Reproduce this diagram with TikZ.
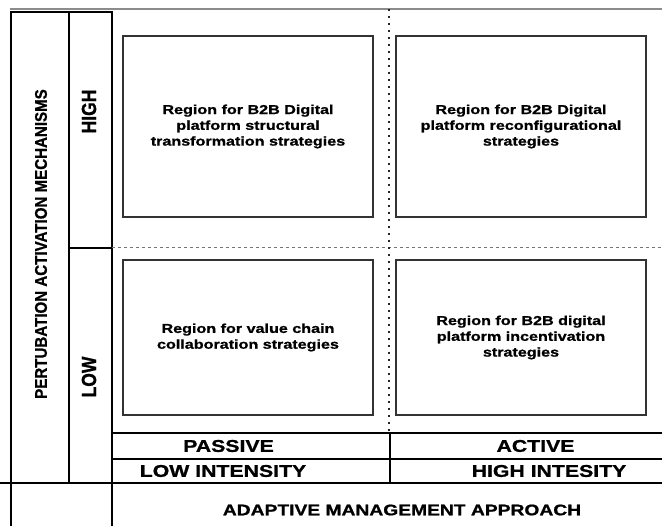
\documentclass[tikz,border=0pt]{standalone}
\usepackage{fontspec}
\usepackage{graphicx}
\setmainfont{Liberation Sans}[BoldFeatures={FakeBold=1}]
\newfontfamily\wf{Liberation Sans}[FakeStretch=1.25, BoldFeatures={FakeBold=1}]
\begin{document}
\begin{tikzpicture}[x=1pt,y=-1pt,
  frameline/.style={line width=1.2pt, black},
  region/.style={draw=black!80, line width=1.2pt, minimum width=250pt, inner sep=0pt, align=center,
    font=\wf\bfseries\fontsize{12.9}{15.8}\selectfont},
  rowtxt/.style={inner sep=0pt, font=\wf\bfseries\fontsize{17}{20}\selectfont},
  mgmt/.style={inner sep=0pt, font=\wf\bfseries\fontsize{15.4}{18}\selectfont},
  vtxt/.style={inner sep=0pt, rotate=90},
  dotline/.style={black!85, line width=2pt, dash pattern=on 1.8pt off 5.2pt},
  dashline/.style={black!55, line width=1pt, dash pattern=on 3pt off 3pt}]
\useasboundingbox (0,0) rectangle (662,526);
\fill[white] (0,0) rectangle (662,526);

% top light line
\draw[black!45, line width=1.5pt] (10,9) -- (662,9);

% left frame
\draw[frameline] (11,526) -- (11,12) -- (112,12) -- (112,526);
\draw[frameline] (69,12) -- (69,483);
\draw[frameline] (69,248) -- (112,248);
\draw[dashline] (112,248) -- (662,248);

% dotted vertical divider
\draw[dotline] (389,9) -- (389,433);

% bottom rows
\draw[frameline] (112,433) -- (662,433);
\draw[frameline] (112,459) -- (662,459);
\draw[frameline] (0,483) -- (662,483);
\draw[frameline] (390,433) -- (390,483);

% region boxes
\node[region, minimum height=181pt] (ul) at (248,126.5) {Region for B2B Digital\\platform structural\\transformation strategies};
\node[region, minimum height=181pt] (ur) at (521,126.5) {Region for B2B Digital\\platform reconfigurational\\strategies};
\node[region, minimum height=155pt] (ll) at (248,337.5) {Region for value chain\\collaboration strategies};
\node[region, minimum height=155pt] (lr) at (521,337.5) {Region for B2B digital\\platform incentivation\\strategies};

% rotated labels
\node[vtxt] (pam) at (41,244) {\scalebox{1}[1.12]{\bfseries\fontsize{15.1}{17}\selectfont PERTUBATION ACTIVATION MECHANISMS}};
\node[vtxt] (high) at (89,111.5) {\scalebox{1}[1.17]{\bfseries\fontsize{17.5}{20}\selectfont HIGH}};
\node[vtxt] (low) at (89,377) {\scalebox{1}[1.17]{\bfseries\fontsize{17.5}{20}\selectfont LOW}};

% bottom texts
\node[rowtxt] (passive) at (228.5,446) {PASSIVE};
\node[rowtxt] (active) at (535.5,446) {ACTIVE};
\node[rowtxt] (lowint) at (223,471) {LOW INTENSITY};
\node[rowtxt] (highint) at (549,471) {HIGH INTESITY};
\node[mgmt] (ama) at (402,510) {ADAPTIVE MANAGEMENT APPROACH};
\end{tikzpicture}
\end{document}
